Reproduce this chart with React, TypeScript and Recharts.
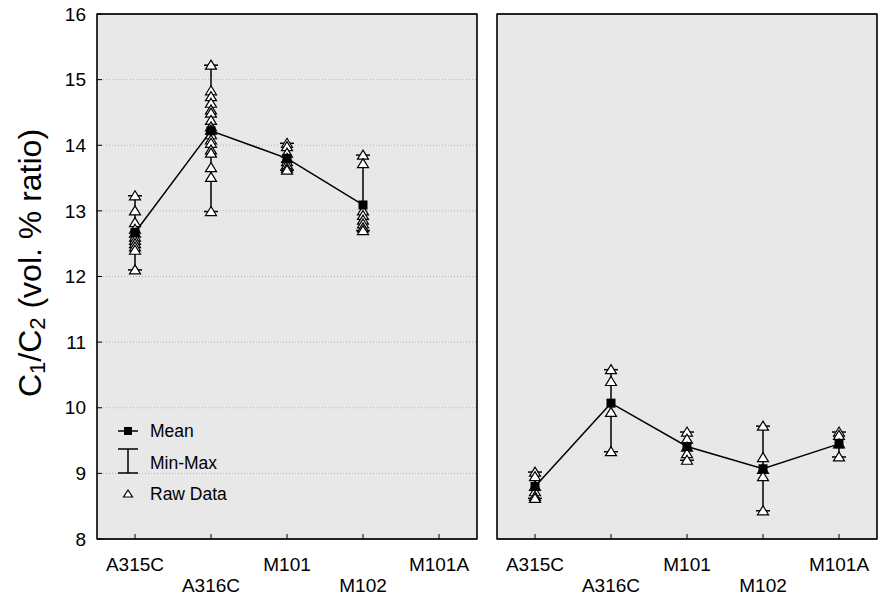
import { ComposedChart, Line, Scatter, ErrorBar, XAxis, YAxis, CartesianGrid, Legend, ReferenceArea } from "recharts"

const FONT = "'Liberation Sans', Arial, sans-serif"

const categories = ["A315C", "A316C", "M101", "M102", "M101A"]
const catTicks = [0, 1, 2, 3, 4]
const yTicks = [8, 9, 10, 11, 12, 13, 14, 15, 16]

// left panel: raw values per category and the plotted means
const leftRaw = [
	[13.23, 13.0, 12.82, 12.72, 12.66, 12.6, 12.55, 12.5, 12.45, 12.4, 12.1],
	[15.22, 14.83, 14.74, 14.64, 14.54, 14.49, 14.38, 14.28, 14.23, 14.16, 14.08, 14.03, 13.93, 13.88, 13.66, 13.51, 12.99],
	[14.03, 13.98, 13.88, 13.8, 13.75, 13.7, 13.65, 13.62],
	[13.85, 13.72, 13.0, 12.93, 12.86, 12.8, 12.74, 12.7],
	[],
]
const leftMeans = [12.67, 14.22, 13.8, 13.09, null]

// right panel
const rightRaw = [
	[9.02, 8.95, 8.8, 8.72, 8.65, 8.62],
	[10.58, 10.4, 9.93, 9.33],
	[9.63, 9.52, 9.4, 9.3, 9.2],
	[9.72, 9.24, 9.06, 8.95, 8.43],
	[9.63, 9.58, 9.45, 9.25],
]
const rightMeans = [8.8, 10.07, 9.41, 9.07, 9.45]

const buildMeans = (means: (number | null)[], raw: number[][]) =>
	means
		.map((m, i) =>
			m == null
				? null
				: { x: i, mean: m, range: [m - Math.min(...raw[i]), Math.max(...raw[i]) - m] }
		)
		.filter(Boolean)

const buildRaw = (raw: number[][]) => raw.flatMap((vals, i) => vals.map((v) => ({ x: i, val: v })))

const CatTick = (props: any) => {
	const { x, payload } = props
	const lower = payload.value % 2 === 1
	return (
		<text x={x} y={lower ? 592 : 571} textAnchor="middle" fontSize={19} fontFamily={FONT} fill="#000">
			{categories[payload.value]}
		</text>
	)
}

const Triangle = (props: any) => {
	const { cx, cy } = props
	if (cx == null || cy == null) return null
	return (
		<path
			d={`M${cx},${cy - 5} L${cx + 5.5},${cy + 4} L${cx - 5.5},${cy + 4} Z`}
			fill="#fff"
			stroke="#000"
			strokeWidth={1.2}
		/>
	)
}

const Square = (props: any) => {
	const { cx, cy, index } = props
	if (cx == null || cy == null) return <g key={`sq-${index}`} />
	return <rect key={`sq-${index}`} x={cx - 4.5} y={cy - 4.5} width={9} height={9} fill="#000" />
}

const YTitle = () => {
	const cx = 30
	const cy = 263
	return (
		<text
			x={cx}
			y={cy}
			transform={`rotate(-90, ${cx}, ${cy})`}
			textAnchor="middle"
			dominantBaseline="central"
			fontSize={32}
			fontFamily={FONT}
			fill="#000"
		>
			C<tspan dy={7} fontSize={22}>1</tspan>
			<tspan dy={-7}>/C</tspan>
			<tspan dy={7} fontSize={22}>2</tspan>
			<tspan dy={-7}> (vol. % ratio)</tspan>
		</text>
	)
}

const LegendBox = () => (
	<svg width={150} height={100} style={{ fontFamily: FONT }}>
		<line x1={8} y1={21} x2={28} y2={21} stroke="#000" strokeWidth={1.5} />
		<rect x={14} y={17} width={8} height={8} fill="#000" />
		<text x={40} y={27} fontSize={17.5} fill="#000">Mean</text>
		<line x1={8} y1={39} x2={28} y2={39} stroke="#000" strokeWidth={1.5} />
		<line x1={18} y1={39} x2={18} y2={63} stroke="#000" strokeWidth={1.5} />
		<line x1={8} y1={63} x2={28} y2={63} stroke="#000" strokeWidth={1.5} />
		<text x={40} y={59} fontSize={17.5} fill="#000">Min-Max</text>
		<path d="M18,80 L22.5,87 L13.5,87 Z" fill="#fff" stroke="#000" strokeWidth={1.2} />
		<text x={40} y={90} fontSize={17.5} fill="#000">Raw Data</text>
	</svg>
)

type PanelProps = {
	raw: number[][]
	means: (number | null)[]
	left: number
	width: number
	marginLeft: number
	showLabels: boolean
	showLegend: boolean
}

const Panel = ({ raw, means, left, width, marginLeft, showLabels, showLegend }: PanelProps) => (
	<div style={{ position: "absolute", left, top: 0 }}>
		<ComposedChart width={width} height={597} margin={{ top: 13, right: 2, bottom: 0, left: marginLeft }}>
			<CartesianGrid vertical={false} stroke="#b4b4b4" strokeDasharray="1 2" fill="#e8e8e8" />
			<XAxis
				dataKey="x"
				type="number"
				domain={[-0.5, 4.5]}
				ticks={catTicks}
				interval={0}
				height={58}
				stroke="#000"
				tickSize={-5}
				tick={<CatTick />}
			/>
			<XAxis
				xAxisId="top"
				orientation="top"
				type="number"
				domain={[-0.5, 4.5]}
				ticks={catTicks}
				height={1}
				stroke="#000"
				tickSize={-5}
				tick={false}
			/>
			<YAxis
				type="number"
				domain={[8, 16]}
				ticks={yTicks}
				interval={0}
				width={showLabels ? 97 : 1}
				stroke="#000"
				tickSize={-5}
				tickMargin={16}
				tick={showLabels ? { fill: "#000", fontSize: 19, fontFamily: FONT } : false}
				label={showLabels ? { content: YTitle } : undefined}
			/>
			<YAxis
				yAxisId="right"
				orientation="right"
				type="number"
				domain={[8, 16]}
				ticks={yTicks}
				width={1}
				stroke="#000"
				tickSize={-5}
				tick={false}
			/>
			<ReferenceArea
				x1={-0.5}
				x2={4.5}
				y1={8}
				y2={16}
				fill="none"
				stroke="#111"
				strokeWidth={1.3}
				ifOverflow="visible"
			/>
			<Line
				data={buildMeans(means, raw)}
				dataKey="mean"
				stroke="#000"
				strokeWidth={1.5}
				dot={Square}
				activeDot={false}
				isAnimationActive={false}
			>
				<ErrorBar dataKey="range" direction="y" width={7} stroke="#000" strokeWidth={1.5} />
			</Line>
			<Scatter data={buildRaw(raw)} dataKey="val" shape={Triangle} isAnimationActive={false} />
			{showLegend && (
				<Legend
					content={LegendBox}
					layout="horizontal"
					verticalAlign="middle"
					align="center"
					wrapperStyle={{ position: "absolute", left: 110, top: 410, width: 150, height: 100 }}
				/>
			)}
		</ComposedChart>
	</div>
)

export default function App() {
	return (
		<div style={{ position: "absolute", left: 0, top: 0, width: 880, height: 597, background: "#fff" }}>
			<Panel raw={leftRaw} means={leftMeans} left={0} width={480} marginLeft={0} showLabels showLegend />
			<Panel raw={rightRaw} means={rightMeans} left={480} width={400} marginLeft={16} showLabels={false} showLegend={false} />
		</div>
	)
}
